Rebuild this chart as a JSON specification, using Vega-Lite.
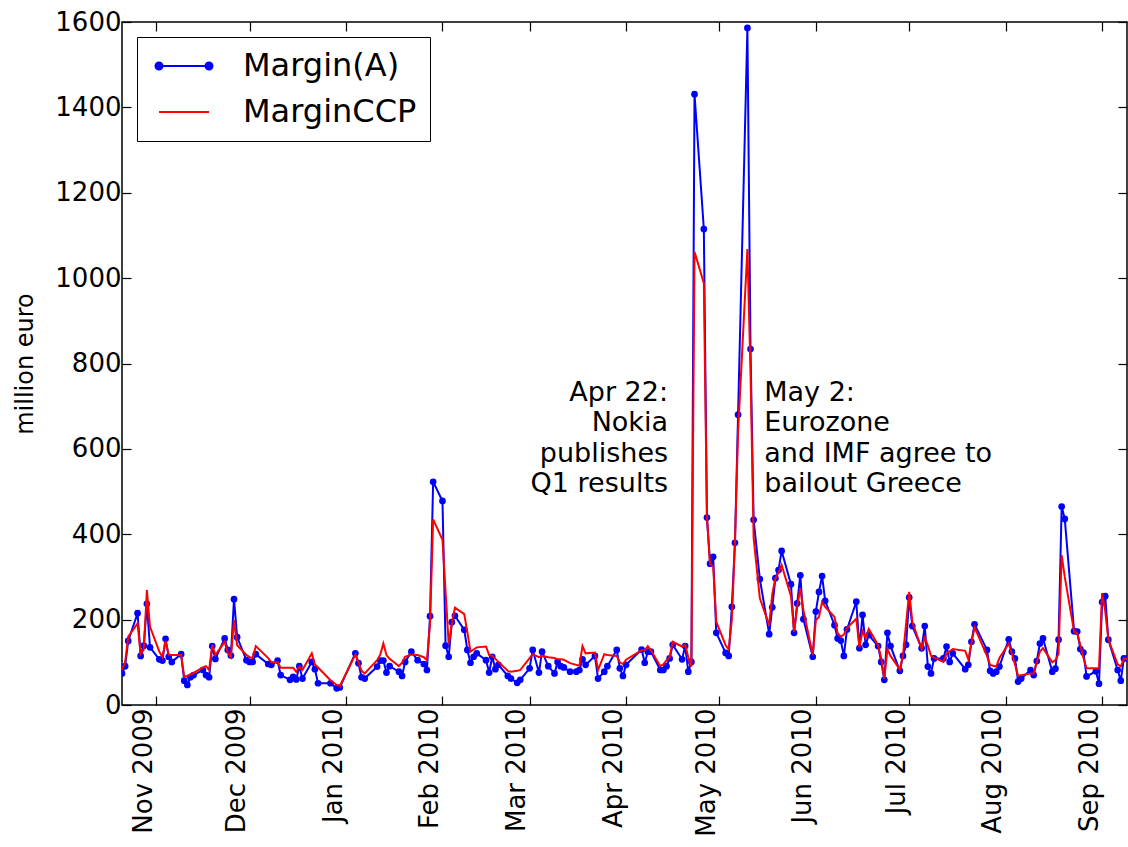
{
  "$schema": "https://vega.github.io/schema/vega-lite/v6.json",
  "width": 1005,
  "height": 683,
  "autosize": {"type": "none"},
  "padding": {"left": 122, "top": 22, "right": 1, "bottom": 142},
  "background": "white",
  "config": {
    "font": "DejaVu Sans",
    "view": {"stroke": "black", "strokeWidth": 1.5},
    "axis": {"grid": false, "domain": false, "ticks": true, "tickColor": "black", "tickWidth": 1.2, "tickSize": -9, "labelColor": "black", "labelFont": "DejaVu Sans", "labelFontSize": 26, "titleFont": "DejaVu Sans", "titleFontWeight": "normal", "titleColor": "black"}
  },
  "datasets": {
    "margins": [
      {"date": "2009-10-21", "Margin(A)": 74, "MarginCCP": 82},
      {"date": "2009-10-22", "Margin(A)": 91, "MarginCCP": 100},
      {"date": "2009-10-23", "Margin(A)": 150, "MarginCCP": 160},
      {"date": "2009-10-26", "Margin(A)": 215, "MarginCCP": 191},
      {"date": "2009-10-27", "Margin(A)": 115, "MarginCCP": 119},
      {"date": "2009-10-28", "Margin(A)": 139, "MarginCCP": 130},
      {"date": "2009-10-29", "Margin(A)": 237, "MarginCCP": 269},
      {"date": "2009-10-30", "Margin(A)": 135, "MarginCCP": 183},
      {"date": "2009-11-02", "Margin(A)": 107, "MarginCCP": 125},
      {"date": "2009-11-03", "Margin(A)": 104, "MarginCCP": 112},
      {"date": "2009-11-04", "Margin(A)": 155, "MarginCCP": 150},
      {"date": "2009-11-05", "Margin(A)": 113, "MarginCCP": 118},
      {"date": "2009-11-06", "Margin(A)": 101, "MarginCCP": 117},
      {"date": "2009-11-09", "Margin(A)": 119, "MarginCCP": 117},
      {"date": "2009-11-10", "Margin(A)": 57, "MarginCCP": 66},
      {"date": "2009-11-11", "Margin(A)": 47, "MarginCCP": 68},
      {"date": "2009-11-12", "Margin(A)": 65, "MarginCCP": 72},
      {"date": "2009-11-13", "Margin(A)": 70, "MarginCCP": 75},
      {"date": "2009-11-16", "Margin(A)": 82, "MarginCCP": 88},
      {"date": "2009-11-17", "Margin(A)": 70, "MarginCCP": 91},
      {"date": "2009-11-18", "Margin(A)": 65, "MarginCCP": 82},
      {"date": "2009-11-19", "Margin(A)": 138, "MarginCCP": 141},
      {"date": "2009-11-20", "Margin(A)": 108, "MarginCCP": 117},
      {"date": "2009-11-23", "Margin(A)": 156, "MarginCCP": 148},
      {"date": "2009-11-24", "Margin(A)": 129, "MarginCCP": 122},
      {"date": "2009-11-25", "Margin(A)": 116, "MarginCCP": 112},
      {"date": "2009-11-26", "Margin(A)": 248, "MarginCCP": 199},
      {"date": "2009-11-27", "Margin(A)": 159, "MarginCCP": 140},
      {"date": "2009-11-30", "Margin(A)": 105, "MarginCCP": 117},
      {"date": "2009-12-01", "Margin(A)": 101, "MarginCCP": 112},
      {"date": "2009-12-02", "Margin(A)": 101, "MarginCCP": 110},
      {"date": "2009-12-03", "Margin(A)": 119, "MarginCCP": 138},
      {"date": "2009-12-07", "Margin(A)": 96, "MarginCCP": 110},
      {"date": "2009-12-08", "Margin(A)": 94, "MarginCCP": 100},
      {"date": "2009-12-10", "Margin(A)": 104, "MarginCCP": 100},
      {"date": "2009-12-11", "Margin(A)": 70, "MarginCCP": 87},
      {"date": "2009-12-14", "Margin(A)": 59, "MarginCCP": 87},
      {"date": "2009-12-15", "Margin(A)": 66, "MarginCCP": 87},
      {"date": "2009-12-16", "Margin(A)": 60, "MarginCCP": 78},
      {"date": "2009-12-17", "Margin(A)": 91, "MarginCCP": 90},
      {"date": "2009-12-18", "Margin(A)": 62, "MarginCCP": 82},
      {"date": "2009-12-21", "Margin(A)": 101, "MarginCCP": 121},
      {"date": "2009-12-22", "Margin(A)": 84, "MarginCCP": 95},
      {"date": "2009-12-23", "Margin(A)": 51, "MarginCCP": 88},
      {"date": "2009-12-27", "Margin(A)": 51, "MarginCCP": 58},
      {"date": "2009-12-29", "Margin(A)": 39, "MarginCCP": 47},
      {"date": "2009-12-30", "Margin(A)": 41, "MarginCCP": 44},
      {"date": "2010-01-04", "Margin(A)": 121, "MarginCCP": 118},
      {"date": "2010-01-05", "Margin(A)": 98, "MarginCCP": 100},
      {"date": "2010-01-06", "Margin(A)": 65, "MarginCCP": 80},
      {"date": "2010-01-07", "Margin(A)": 62, "MarginCCP": 74},
      {"date": "2010-01-11", "Margin(A)": 90, "MarginCCP": 105},
      {"date": "2010-01-12", "Margin(A)": 104, "MarginCCP": 118},
      {"date": "2010-01-13", "Margin(A)": 104, "MarginCCP": 144},
      {"date": "2010-01-14", "Margin(A)": 76, "MarginCCP": 117},
      {"date": "2010-01-15", "Margin(A)": 91, "MarginCCP": 108},
      {"date": "2010-01-18", "Margin(A)": 78, "MarginCCP": 91},
      {"date": "2010-01-19", "Margin(A)": 68, "MarginCCP": 99},
      {"date": "2010-01-20", "Margin(A)": 101, "MarginCCP": 113},
      {"date": "2010-01-22", "Margin(A)": 125, "MarginCCP": 118},
      {"date": "2010-01-24", "Margin(A)": 105, "MarginCCP": 117},
      {"date": "2010-01-26", "Margin(A)": 96, "MarginCCP": 112},
      {"date": "2010-01-27", "Margin(A)": 82, "MarginCCP": 105},
      {"date": "2010-01-28", "Margin(A)": 208, "MarginCCP": 190},
      {"date": "2010-01-29", "Margin(A)": 523, "MarginCCP": 435},
      {"date": "2010-02-01", "Margin(A)": 478, "MarginCCP": 387},
      {"date": "2010-02-02", "Margin(A)": 139, "MarginCCP": 265},
      {"date": "2010-02-03", "Margin(A)": 113, "MarginCCP": 142},
      {"date": "2010-02-04", "Margin(A)": 194, "MarginCCP": 190},
      {"date": "2010-02-05", "Margin(A)": 209, "MarginCCP": 228},
      {"date": "2010-02-08", "Margin(A)": 176, "MarginCCP": 213},
      {"date": "2010-02-09", "Margin(A)": 129, "MarginCCP": 170},
      {"date": "2010-02-10", "Margin(A)": 99, "MarginCCP": 125},
      {"date": "2010-02-11", "Margin(A)": 113, "MarginCCP": 130},
      {"date": "2010-02-12", "Margin(A)": 121, "MarginCCP": 135},
      {"date": "2010-02-15", "Margin(A)": 105, "MarginCCP": 137},
      {"date": "2010-02-16", "Margin(A)": 76, "MarginCCP": 117},
      {"date": "2010-02-17", "Margin(A)": 113, "MarginCCP": 115},
      {"date": "2010-02-18", "Margin(A)": 84, "MarginCCP": 108},
      {"date": "2010-02-19", "Margin(A)": 94, "MarginCCP": 101},
      {"date": "2010-02-22", "Margin(A)": 68, "MarginCCP": 80},
      {"date": "2010-02-23", "Margin(A)": 62, "MarginCCP": 78},
      {"date": "2010-02-25", "Margin(A)": 52, "MarginCCP": 80},
      {"date": "2010-02-26", "Margin(A)": 59, "MarginCCP": 82},
      {"date": "2010-03-01", "Margin(A)": 86, "MarginCCP": 110},
      {"date": "2010-03-02", "Margin(A)": 129, "MarginCCP": 119},
      {"date": "2010-03-04", "Margin(A)": 76, "MarginCCP": 112},
      {"date": "2010-03-05", "Margin(A)": 125, "MarginCCP": 115},
      {"date": "2010-03-07", "Margin(A)": 91, "MarginCCP": 112},
      {"date": "2010-03-09", "Margin(A)": 74, "MarginCCP": 110},
      {"date": "2010-03-10", "Margin(A)": 101, "MarginCCP": 107},
      {"date": "2010-03-11", "Margin(A)": 91, "MarginCCP": 107},
      {"date": "2010-03-12", "Margin(A)": 88, "MarginCCP": 106},
      {"date": "2010-03-14", "Margin(A)": 78, "MarginCCP": 98},
      {"date": "2010-03-16", "Margin(A)": 78, "MarginCCP": 94},
      {"date": "2010-03-17", "Margin(A)": 82, "MarginCCP": 92},
      {"date": "2010-03-18", "Margin(A)": 107, "MarginCCP": 138},
      {"date": "2010-03-19", "Margin(A)": 94, "MarginCCP": 121},
      {"date": "2010-03-22", "Margin(A)": 115, "MarginCCP": 123},
      {"date": "2010-03-23", "Margin(A)": 62, "MarginCCP": 82},
      {"date": "2010-03-25", "Margin(A)": 78, "MarginCCP": 119},
      {"date": "2010-03-26", "Margin(A)": 91, "MarginCCP": 117},
      {"date": "2010-03-29", "Margin(A)": 129, "MarginCCP": 115},
      {"date": "2010-03-30", "Margin(A)": 86, "MarginCCP": 100},
      {"date": "2010-03-31", "Margin(A)": 68, "MarginCCP": 96},
      {"date": "2010-04-01", "Margin(A)": 94, "MarginCCP": 106},
      {"date": "2010-04-06", "Margin(A)": 130, "MarginCCP": 128},
      {"date": "2010-04-07", "Margin(A)": 99, "MarginCCP": 128},
      {"date": "2010-04-08", "Margin(A)": 125, "MarginCCP": 138},
      {"date": "2010-04-09", "Margin(A)": 125, "MarginCCP": 128},
      {"date": "2010-04-12", "Margin(A)": 82, "MarginCCP": 91},
      {"date": "2010-04-13", "Margin(A)": 82, "MarginCCP": 95},
      {"date": "2010-04-14", "Margin(A)": 91, "MarginCCP": 105},
      {"date": "2010-04-15", "Margin(A)": 109, "MarginCCP": 112},
      {"date": "2010-04-16", "Margin(A)": 141, "MarginCCP": 148},
      {"date": "2010-04-19", "Margin(A)": 107, "MarginCCP": 137},
      {"date": "2010-04-20", "Margin(A)": 138, "MarginCCP": 141},
      {"date": "2010-04-21", "Margin(A)": 78, "MarginCCP": 112},
      {"date": "2010-04-22", "Margin(A)": 101, "MarginCCP": 90},
      {"date": "2010-04-23", "Margin(A)": 1431, "MarginCCP": 1062},
      {"date": "2010-04-26", "Margin(A)": 1115, "MarginCCP": 988},
      {"date": "2010-04-27", "Margin(A)": 439, "MarginCCP": 440},
      {"date": "2010-04-28", "Margin(A)": 331, "MarginCCP": 330},
      {"date": "2010-04-29", "Margin(A)": 347, "MarginCCP": 325},
      {"date": "2010-04-30", "Margin(A)": 169, "MarginCCP": 195},
      {"date": "2010-05-03", "Margin(A)": 122, "MarginCCP": 140},
      {"date": "2010-05-04", "Margin(A)": 115, "MarginCCP": 130},
      {"date": "2010-05-05", "Margin(A)": 230, "MarginCCP": 200},
      {"date": "2010-05-06", "Margin(A)": 380, "MarginCCP": 380},
      {"date": "2010-05-07", "Margin(A)": 680, "MarginCCP": 640},
      {"date": "2010-05-10", "Margin(A)": 1586, "MarginCCP": 1068},
      {"date": "2010-05-11", "Margin(A)": 834, "MarginCCP": 780},
      {"date": "2010-05-12", "Margin(A)": 434, "MarginCCP": 391},
      {"date": "2010-05-14", "Margin(A)": 295, "MarginCCP": 250},
      {"date": "2010-05-17", "Margin(A)": 166, "MarginCCP": 187},
      {"date": "2010-05-18", "Margin(A)": 229, "MarginCCP": 260},
      {"date": "2010-05-19", "Margin(A)": 297, "MarginCCP": 297},
      {"date": "2010-05-20", "Margin(A)": 316, "MarginCCP": 310},
      {"date": "2010-05-21", "Margin(A)": 361, "MarginCCP": 328},
      {"date": "2010-05-24", "Margin(A)": 283, "MarginCCP": 255},
      {"date": "2010-05-25", "Margin(A)": 169, "MarginCCP": 171},
      {"date": "2010-05-26", "Margin(A)": 238, "MarginCCP": 230},
      {"date": "2010-05-27", "Margin(A)": 304, "MarginCCP": 273},
      {"date": "2010-05-28", "Margin(A)": 201, "MarginCCP": 222},
      {"date": "2010-05-31", "Margin(A)": 113, "MarginCCP": 117},
      {"date": "2010-06-01", "Margin(A)": 219, "MarginCCP": 199},
      {"date": "2010-06-02", "Margin(A)": 265, "MarginCCP": 206},
      {"date": "2010-06-03", "Margin(A)": 302, "MarginCCP": 241},
      {"date": "2010-06-04", "Margin(A)": 244, "MarginCCP": 230},
      {"date": "2010-06-07", "Margin(A)": 187, "MarginCCP": 206},
      {"date": "2010-06-08", "Margin(A)": 156, "MarginCCP": 168},
      {"date": "2010-06-09", "Margin(A)": 151, "MarginCCP": 160},
      {"date": "2010-06-10", "Margin(A)": 115, "MarginCCP": 165},
      {"date": "2010-06-11", "Margin(A)": 177, "MarginCCP": 180},
      {"date": "2010-06-14", "Margin(A)": 242, "MarginCCP": 202},
      {"date": "2010-06-15", "Margin(A)": 133, "MarginCCP": 135},
      {"date": "2010-06-16", "Margin(A)": 211, "MarginCCP": 173},
      {"date": "2010-06-17", "Margin(A)": 141, "MarginCCP": 157},
      {"date": "2010-06-18", "Margin(A)": 164, "MarginCCP": 178},
      {"date": "2010-06-21", "Margin(A)": 138, "MarginCCP": 140},
      {"date": "2010-06-22", "Margin(A)": 101, "MarginCCP": 110},
      {"date": "2010-06-23", "Margin(A)": 59, "MarginCCP": 62},
      {"date": "2010-06-24", "Margin(A)": 169, "MarginCCP": 131},
      {"date": "2010-06-25", "Margin(A)": 138, "MarginCCP": 115},
      {"date": "2010-06-28", "Margin(A)": 80, "MarginCCP": 83},
      {"date": "2010-06-29", "Margin(A)": 115, "MarginCCP": 117},
      {"date": "2010-06-30", "Margin(A)": 141, "MarginCCP": 190},
      {"date": "2010-07-01", "Margin(A)": 252, "MarginCCP": 265},
      {"date": "2010-07-02", "Margin(A)": 185, "MarginCCP": 195},
      {"date": "2010-07-05", "Margin(A)": 133, "MarginCCP": 131},
      {"date": "2010-07-06", "Margin(A)": 185, "MarginCCP": 158},
      {"date": "2010-07-07", "Margin(A)": 90, "MarginCCP": 139},
      {"date": "2010-07-08", "Margin(A)": 74, "MarginCCP": 115},
      {"date": "2010-07-09", "Margin(A)": 109, "MarginCCP": 111},
      {"date": "2010-07-12", "Margin(A)": 109, "MarginCCP": 101},
      {"date": "2010-07-13", "Margin(A)": 137, "MarginCCP": 121},
      {"date": "2010-07-14", "Margin(A)": 101, "MarginCCP": 126},
      {"date": "2010-07-15", "Margin(A)": 121, "MarginCCP": 131},
      {"date": "2010-07-19", "Margin(A)": 84, "MarginCCP": 127},
      {"date": "2010-07-20", "Margin(A)": 94, "MarginCCP": 107},
      {"date": "2010-07-21", "Margin(A)": 148, "MarginCCP": 145},
      {"date": "2010-07-22", "Margin(A)": 189, "MarginCCP": 182},
      {"date": "2010-07-26", "Margin(A)": 129, "MarginCCP": 115},
      {"date": "2010-07-27", "Margin(A)": 80, "MarginCCP": 94},
      {"date": "2010-07-28", "Margin(A)": 74, "MarginCCP": 92},
      {"date": "2010-07-29", "Margin(A)": 78, "MarginCCP": 90},
      {"date": "2010-07-30", "Margin(A)": 90, "MarginCCP": 110},
      {"date": "2010-08-02", "Margin(A)": 154, "MarginCCP": 144},
      {"date": "2010-08-03", "Margin(A)": 125, "MarginCCP": 120},
      {"date": "2010-08-04", "Margin(A)": 109, "MarginCCP": 95},
      {"date": "2010-08-05", "Margin(A)": 55, "MarginCCP": 68},
      {"date": "2010-08-06", "Margin(A)": 62, "MarginCCP": 70},
      {"date": "2010-08-09", "Margin(A)": 82, "MarginCCP": 74},
      {"date": "2010-08-10", "Margin(A)": 70, "MarginCCP": 74},
      {"date": "2010-08-11", "Margin(A)": 103, "MarginCCP": 100},
      {"date": "2010-08-12", "Margin(A)": 144, "MarginCCP": 125},
      {"date": "2010-08-13", "Margin(A)": 156, "MarginCCP": 133},
      {"date": "2010-08-16", "Margin(A)": 78, "MarginCCP": 100},
      {"date": "2010-08-17", "Margin(A)": 85, "MarginCCP": 105},
      {"date": "2010-08-18", "Margin(A)": 153, "MarginCCP": 120},
      {"date": "2010-08-19", "Margin(A)": 465, "MarginCCP": 351},
      {"date": "2010-08-20", "Margin(A)": 436, "MarginCCP": 300},
      {"date": "2010-08-23", "Margin(A)": 173, "MarginCCP": 172},
      {"date": "2010-08-24", "Margin(A)": 172, "MarginCCP": 168},
      {"date": "2010-08-25", "Margin(A)": 131, "MarginCCP": 140},
      {"date": "2010-08-26", "Margin(A)": 123, "MarginCCP": 110},
      {"date": "2010-08-27", "Margin(A)": 67, "MarginCCP": 86},
      {"date": "2010-08-30", "Margin(A)": 79, "MarginCCP": 86},
      {"date": "2010-08-31", "Margin(A)": 50, "MarginCCP": 86},
      {"date": "2010-09-01", "Margin(A)": 241, "MarginCCP": 262},
      {"date": "2010-09-02", "Margin(A)": 255, "MarginCCP": 220},
      {"date": "2010-09-03", "Margin(A)": 153, "MarginCCP": 154},
      {"date": "2010-09-06", "Margin(A)": 82, "MarginCCP": 95},
      {"date": "2010-09-07", "Margin(A)": 57, "MarginCCP": 90},
      {"date": "2010-09-08", "Margin(A)": 109, "MarginCCP": 109},
      {"date": "2010-09-09", "Margin(A)": 109, "MarginCCP": 108}
    ],
    "notesLeft": [
      {"date": "2010-04-14T12:00:00Z", "value": 713, "label": "Apr 22:\nNokia\npublishes\nQ1 results"}
    ],
    "notesRight": [
      {"date": "2010-05-15T10:00:00Z", "value": 713, "label": "May 2:\nEurozone\nand IMF agree to\nbailout Greece"}
    ]
  },
  "layer": [
    {
      "data": {"name": "margins"},
      "transform": [
        {"fold": ["Margin(A)", "MarginCCP"], "as": ["series", "value"]},
        {"filter": "datum.series === 'Margin(A)'"}
      ],
      "mark": {"type": "line", "strokeWidth": 2, "clip": true, "point": {"filled": true, "size": 45, "clip": true}},
      "encoding": {
        "x": {
          "field": "date", "type": "temporal",
          "scale": {"type": "utc", "domain": [{"year": 2009, "month": 10, "date": 21, "utc": true}, {"year": 2010, "month": 9, "date": 9, "utc": true}]},
          "axis": {
            "orient": "bottom", "title": null, "format": "%b %Y", "labelAngle": 270, "labelAlign": "right", "labelBaseline": "bottom", "labelPadding": 12,
            "values": [
              {"year": 2009, "month": 11, "date": 1, "utc": true},
              {"year": 2009, "month": 12, "date": 1, "utc": true},
              {"year": 2010, "month": 1, "date": 1, "utc": true},
              {"year": 2010, "month": 2, "date": 1, "utc": true},
              {"year": 2010, "month": 3, "date": 1, "utc": true},
              {"year": 2010, "month": 4, "date": 1, "utc": true},
              {"year": 2010, "month": 5, "date": 1, "utc": true},
              {"year": 2010, "month": 6, "date": 1, "utc": true},
              {"year": 2010, "month": 7, "date": 1, "utc": true},
              {"year": 2010, "month": 8, "date": 1, "utc": true},
              {"year": 2010, "month": 9, "date": 1, "utc": true}
            ]
          }
        },
        "y": {
          "field": "value", "type": "quantitative",
          "scale": {"domain": [0, 1600], "nice": false},
          "axis": {"orient": "left", "title": "million euro", "titleFontSize": 24, "titleX": -97, "titleY": 341.5, "titleAngle": 270, "titleAlign": "center", "titleBaseline": "middle", "values": [0, 200, 400, 600, 800, 1000, 1200, 1400, 1600], "format": "d", "labelPadding": 10}
        },
        "color": {
          "field": "series", "type": "nominal",
          "scale": {"domain": ["Margin(A)", "MarginCCP"], "range": ["#0000ff", "#ff0000"]},
          "legend": {
            "title": null, "orient": "top-left", "offset": 15, "padding": 13,
            "strokeColor": "black", "fillColor": "white",
            "symbolSize": 900, "symbolStrokeWidth": 2, "symbolOffset": 18,
            "labelFontSize": 32, "labelFont": "DejaVu Sans", "labelColor": "black", "labelOffset": 43, "labelLimit": 0, "rowPadding": 14,
            "encode": {
              "symbols": {
                "update": {
                  "shape": {"signal": "datum.value === 'Margin(A)' ? 'M-1.667,0L1.667,0M-1.9,0a0.233,0.233 0 1,0 0.466,0a0.233,0.233 0 1,0 -0.466,0M1.434,0a0.233,0.233 0 1,0 0.466,0a0.233,0.233 0 1,0 -0.466,0' : 'M-1.667,0L1.667,0'"},
                  "fill": {"signal": "datum.value === 'Margin(A)' ? '#0000ff' : 'transparent'"},
                  "stroke": {"signal": "datum.value === 'Margin(A)' ? '#0000ff' : '#ff0000'"},
                  "opacity": {"value": 1}
                }
              }
            }
          }
        }
      }
    },
    {
      "data": {"name": "margins"},
      "transform": [
        {"fold": ["Margin(A)", "MarginCCP"], "as": ["series", "value"]},
        {"filter": "datum.series === 'MarginCCP'"}
      ],
      "mark": {"type": "line", "strokeWidth": 2, "clip": true},
      "encoding": {
        "x": {
          "field": "date", "type": "temporal",
          "axis": {
            "orient": "top", "title": null, "labels": false,
            "values": [
              {"year": 2009, "month": 11, "date": 1, "utc": true},
              {"year": 2009, "month": 12, "date": 1, "utc": true},
              {"year": 2010, "month": 1, "date": 1, "utc": true},
              {"year": 2010, "month": 2, "date": 1, "utc": true},
              {"year": 2010, "month": 3, "date": 1, "utc": true},
              {"year": 2010, "month": 4, "date": 1, "utc": true},
              {"year": 2010, "month": 5, "date": 1, "utc": true},
              {"year": 2010, "month": 6, "date": 1, "utc": true},
              {"year": 2010, "month": 7, "date": 1, "utc": true},
              {"year": 2010, "month": 8, "date": 1, "utc": true},
              {"year": 2010, "month": 9, "date": 1, "utc": true}
            ]
          }
        },
        "y": {
          "field": "value", "type": "quantitative",
          "axis": {"orient": "right", "title": null, "labels": false, "values": [0, 200, 400, 600, 800, 1000, 1200, 1400, 1600]}
        },
        "color": {"field": "series", "type": "nominal"}
      }
    },
    {
      "data": {"name": "notesLeft"},
      "mark": {"type": "text", "align": "right", "baseline": "alphabetic", "fontSize": 27, "lineHeight": 30.5, "lineBreak": "\n", "font": "DejaVu Sans", "color": "black"},
      "encoding": {
        "x": {"field": "date", "type": "temporal", "axis": null},
        "y": {"field": "value", "type": "quantitative", "axis": null},
        "text": {"field": "label"}
      }
    },
    {
      "data": {"name": "notesRight"},
      "mark": {"type": "text", "align": "left", "baseline": "alphabetic", "fontSize": 27, "lineHeight": 30.5, "lineBreak": "\n", "font": "DejaVu Sans", "color": "black"},
      "encoding": {
        "x": {"field": "date", "type": "temporal", "axis": null},
        "y": {"field": "value", "type": "quantitative", "axis": null},
        "text": {"field": "label"}
      }
    }
  ],
  "resolve": {"axis": {"x": "independent", "y": "independent"}}
}
